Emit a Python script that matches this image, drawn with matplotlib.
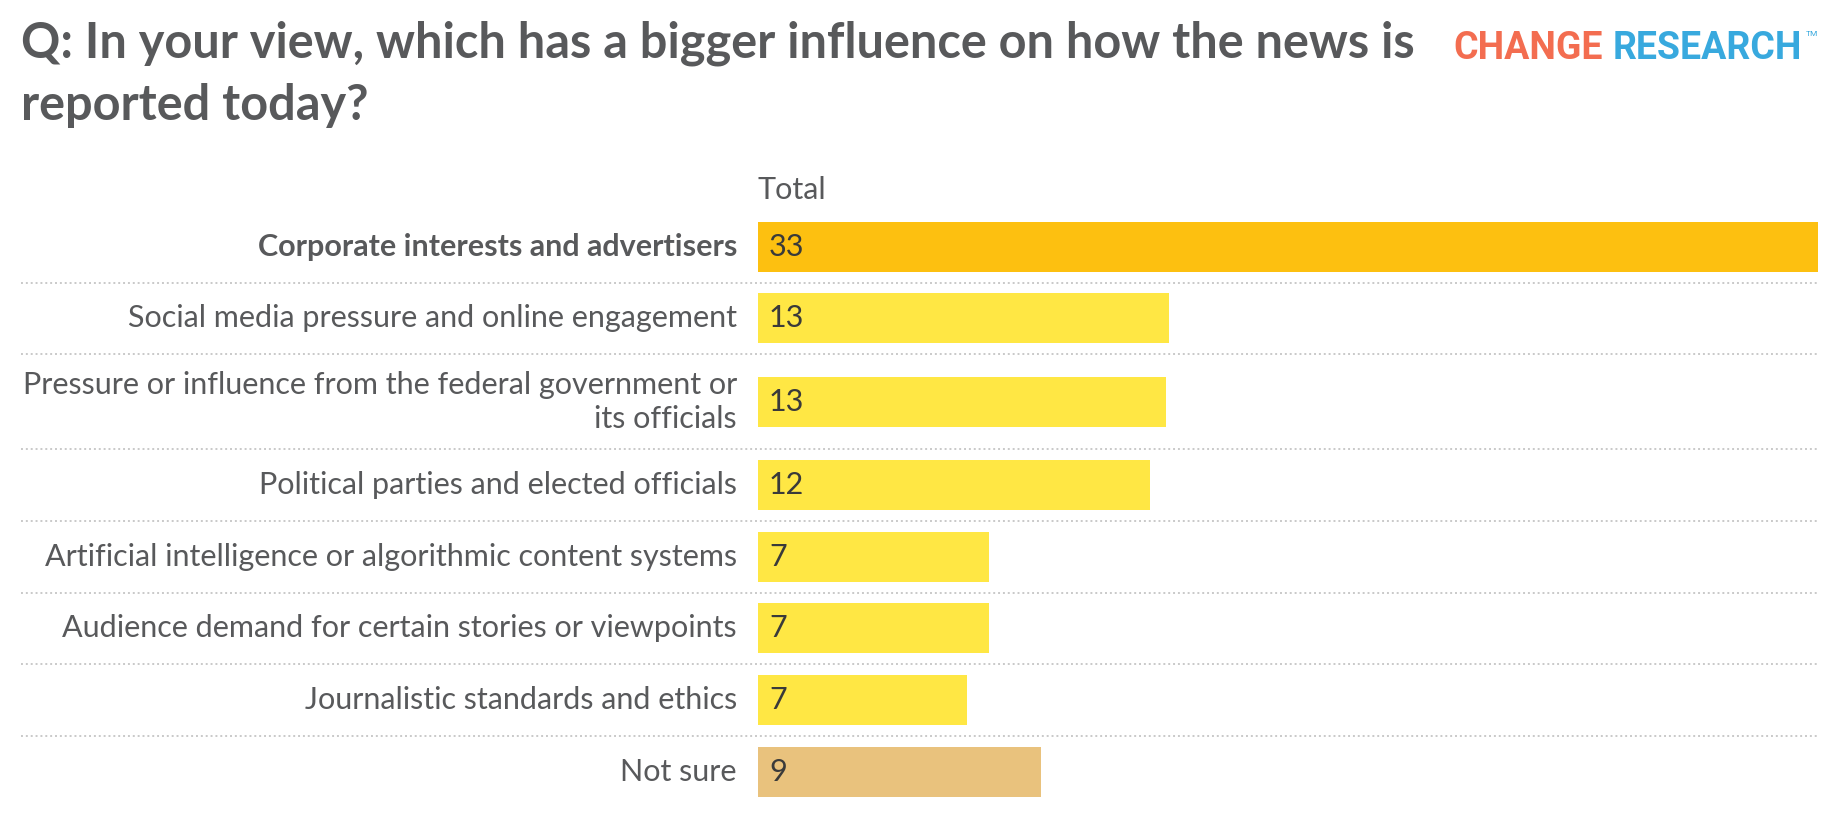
import matplotlib.pyplot as plt
from matplotlib.transforms import blended_transform_factory
from matplotlib.lines import Line2D

# data
categories = [
    "Corporate interests and advertisers",
    "Social media pressure and online engagement",
    "Pressure or influence from the federal government or\nits officials",
    "Political parties and elected officials",
    "Artificial intelligence or algorithmic content systems",
    "Audience demand for certain stories or viewpoints",
    "Journalistic standards and ethics",
    "Not sure",
]
values = [33.0, 12.8, 12.7, 12.2, 7.2, 7.2, 6.5, 8.8]
value_labels = ["33", "13", "13", "12", "7", "7", "7", "9"]
bar_colors = ["#FDC010", "#FFE744", "#FFE744", "#FFE744",
              "#FFE744", "#FFE744", "#FFE744", "#E9C27D"]
column_label = "Total"
title = "Q: In your view, which has a bigger influence on how the news is\nreported today?"

TEXT = "#58595B"
FONT = "Lato"
W, H = 1840, 818

fig = plt.figure(figsize=(W / 100, H / 100), dpi=100)
fig.patch.set_facecolor("white")

# axes spans the bar area horizontally, full height in pixel units
ax = fig.add_axes([758 / W, 0, (1818 - 758) / W, 1])
ax.set_xlim(0, max(values))
ax.set_ylim(H, 0)
ax.axis("off")

# row layout: taller rows for wrapped labels
row_top = 211
base_h, extra_h = 71.6, 23.5
centers, bottoms = [], []
y = row_top
for cat in categories:
    h = base_h + extra_h * (cat.count("\n"))
    centers.append(y + h / 2)
    bottoms.append(y + h)
    y += h

ax.barh(centers, values, height=50, color=bar_colors, left=0)

lab_tr = blended_transform_factory(fig.transFigure, ax.transData)
for i, (cat, c, v, lbl) in enumerate(zip(categories, centers, values, value_labels)):
    ax.text(737 / W, c, cat, transform=lab_tr, ha="right", va="center",
            fontsize=22, family=FONT, color=TEXT,
            fontweight="bold" if i == 0 else "normal", linespacing=1.25)
    ax.annotate(lbl, xy=(0, c), xytext=(11, 0), textcoords="offset pixels",
                ha="left", va="center", fontsize=22, family=FONT, color="#3a3a3a")

for b in bottoms[:-1]:
    ax.add_line(Line2D([21 / W, 1818 / W], [b, b], transform=lab_tr,
                       color="#c9c9c9", linestyle=(0, (1, 1.5)), linewidth=1.4,
                       clip_on=False))

ax.text(0, 190, column_label, ha="left", va="center", fontsize=22,
        family=FONT, color=TEXT)

# title (va=baseline anchors the last line here)
fig.text(21 / W, 1 - 120 / H, title, ha="left", va="baseline", fontsize=35,
         fontweight="bold", family=FONT, color=TEXT, linespacing=1.45)

# logo
logo_font = "Roboto"
fig.text(1453 / W, 1 - 59 / H, "CHANGE", ha="left", va="baseline", fontsize=27,
         fontweight="bold", family=logo_font, color="#F36D50")
fig.text(1613 / W, 1 - 59 / H, "RESEARCH", ha="left", va="baseline", fontsize=27,
         fontweight="bold", family=logo_font, color="#38A9DE")
fig.text(1806 / W, 1 - 36 / H, "TM", ha="left", va="baseline", fontsize=6,
         family=logo_font, color="#38A9DE")

fig.savefig("out.png", dpi=100, facecolor="white")
plt.close(fig)
